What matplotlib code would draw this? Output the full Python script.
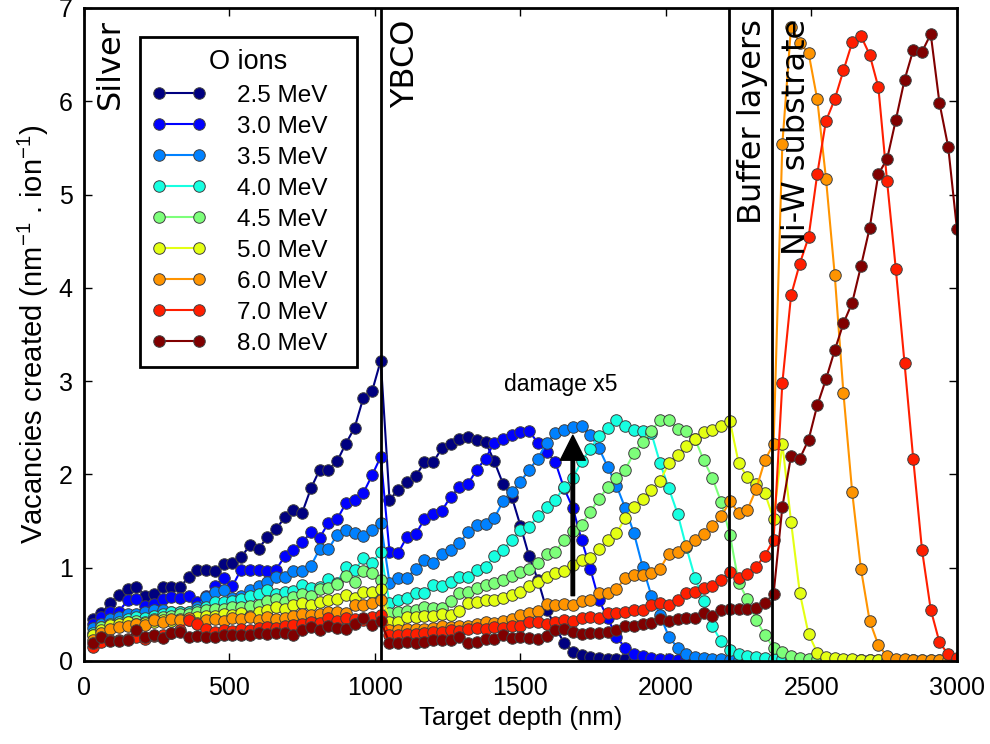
import numpy as np
import matplotlib
matplotlib.use('Agg')
import matplotlib.pyplot as plt

plt.rcParams['font.family'] = ['Liberation Sans', 'DejaVu Sans']
plt.rcParams['mathtext.default'] = 'regular'

# SRIM depth bins: 30 nm steps over 3 um
depth = np.arange(30, 3001, 30)

energies = ['2.5', '3.0', '3.5', '4.0', '4.5', '5.0', '6.0', '7.0', '8.0']

vac_2p5 = [0.45, 0.51, 0.62, 0.71, 0.77, 0.79, 0.70, 0.72, 0.79, 0.79,
           0.79, 0.90, 0.97, 0.98, 0.96, 1.04, 1.05, 1.11, 1.24, 1.20,
           1.33, 1.41, 1.54, 1.62, 1.59, 1.85, 2.05, 2.05, 2.14, 2.33,
           2.50, 2.82, 2.89, 3.22, 1.73, 1.83, 1.92, 1.98, 2.13, 2.13,
           2.28, 2.33, 2.38, 2.40, 2.37, 2.35, 2.14, 1.90, 1.76, 1.45,
           1.12, 0.87, 0.55, 0.37, 0.19, 0.10, 0.06, 0.04, 0.03, 0.02,
           0.02, 0.02, 0.01, 0.01, 0.01, 0.01, 0.01, 0.01, 0.01, 0.01,
           0.01, 0.01, 0.01, 0.01, 0.01, 0.01, 0.01, 0.01, 0.01, 0.01,
           0.00, 0.00, 0.00, 0.00, 0.00, 0.00, 0.00, 0.00, 0.00, 0.00,
           0.00, 0.00, 0.00, 0.00, 0.00, 0.00, 0.00, 0.00, 0.00, 0.00]

vac_3p0 = [0.40, 0.47, 0.53, 0.53, 0.65, 0.66, 0.59, 0.61, 0.66, 0.69,
           0.67, 0.70, 0.63, 0.70, 0.80, 0.89, 0.80, 0.98, 0.98, 0.98,
           0.96, 0.98, 1.12, 1.19, 1.27, 1.38, 1.32, 1.48, 1.52, 1.69,
           1.73, 1.80, 1.99, 2.19, 1.17, 1.16, 1.33, 1.36, 1.52, 1.58,
           1.61, 1.76, 1.86, 1.90, 2.05, 2.17, 2.34, 2.38, 2.42, 2.45,
           2.46, 2.34, 2.24, 2.13, 1.85, 1.64, 1.30, 0.99, 0.65, 0.46,
           0.26, 0.14, 0.08, 0.05, 0.03, 0.02, 0.02, 0.01, 0.01, 0.01,
           0.01, 0.01, 0.01, 0.01, 0.01, 0.01, 0.01, 0.01, 0.01, 0.01,
           0.00, 0.00, 0.00, 0.00, 0.00, 0.00, 0.00, 0.00, 0.00, 0.00,
           0.00, 0.00, 0.00, 0.00, 0.00, 0.00, 0.00, 0.00, 0.00, 0.00]

vac_3p5 = [0.35, 0.40, 0.45, 0.47, 0.50, 0.50, 0.52, 0.55, 0.55, 0.52,
           0.53, 0.52, 0.58, 0.69, 0.74, 0.76, 0.67, 0.70, 0.76, 0.80,
           0.85, 0.90, 0.90, 0.96, 0.96, 1.02, 1.20, 1.20, 1.35, 1.40,
           1.37, 1.34, 1.40, 1.48, 0.84, 0.89, 0.89, 0.99, 1.08, 1.05,
           1.15, 1.19, 1.26, 1.38, 1.46, 1.47, 1.53, 1.71, 1.81, 1.92,
           2.05, 2.17, 2.34, 2.44, 2.48, 2.51, 2.52, 2.42, 2.28, 2.08,
           1.88, 1.64, 1.37, 1.01, 0.70, 0.49, 0.26, 0.14, 0.07, 0.04,
           0.03, 0.02, 0.02, 0.01, 0.01, 0.01, 0.01, 0.01, 0.01, 0.01,
           0.01, 0.01, 0.01, 0.00, 0.00, 0.00, 0.00, 0.00, 0.00, 0.00,
           0.00, 0.00, 0.00, 0.00, 0.00, 0.00, 0.00, 0.00, 0.00, 0.00]

vac_4p0 = [0.30, 0.36, 0.40, 0.42, 0.45, 0.47, 0.46, 0.48, 0.50, 0.52,
           0.53, 0.52, 0.55, 0.58, 0.63, 0.63, 0.64, 0.66, 0.70, 0.72,
           0.76, 0.72, 0.74, 0.75, 0.81, 0.78, 0.79, 0.88, 0.84, 1.01,
           0.97, 1.10, 1.05, 1.17, 0.62, 0.65, 0.68, 0.73, 0.73, 0.81,
           0.80, 0.85, 0.90, 0.90, 0.97, 1.01, 1.12, 1.19, 1.30, 1.40,
           1.44, 1.55, 1.65, 1.73, 1.86, 1.96, 2.14, 2.27, 2.41, 2.50,
           2.58, 2.52, 2.48, 2.47, 2.44, 2.12, 1.85, 1.58, 1.22, 0.89,
           0.64, 0.37, 0.21, 0.12, 0.07, 0.05, 0.04, 0.03, 0.02, 0.02,
           0.02, 0.01, 0.01, 0.01, 0.01, 0.01, 0.01, 0.01, 0.01, 0.01,
           0.00, 0.00, 0.00, 0.00, 0.00, 0.00, 0.00, 0.00, 0.00, 0.00]

vac_4p5 = [0.28, 0.36, 0.38, 0.40, 0.42, 0.43, 0.42, 0.45, 0.47, 0.48,
           0.50, 0.50, 0.52, 0.55, 0.56, 0.56, 0.58, 0.58, 0.59, 0.60,
           0.64, 0.66, 0.63, 0.69, 0.72, 0.70, 0.77, 0.78, 0.82, 0.91,
           0.85, 0.96, 0.94, 0.87, 0.51, 0.53, 0.54, 0.55, 0.58, 0.57,
           0.57, 0.64, 0.73, 0.74, 0.78, 0.81, 0.84, 0.87, 0.91, 0.95,
           0.99, 1.05, 1.15, 1.17, 1.30, 1.39, 1.46, 1.60, 1.74, 1.86,
           1.96, 2.05, 2.23, 2.35, 2.47, 2.58, 2.58, 2.49, 2.47, 2.38,
           2.15, 1.96, 1.70, 1.35, 0.84, 0.66, 0.44, 0.28, 0.14, 0.10,
           0.05, 0.03, 0.02, 0.02, 0.01, 0.01, 0.01, 0.01, 0.01, 0.01,
           0.01, 0.01, 0.01, 0.01, 0.01, 0.00, 0.00, 0.00, 0.00, 0.00]

vac_5p0 = [0.28, 0.33, 0.39, 0.40, 0.42, 0.40, 0.41, 0.42, 0.44, 0.43,
           0.45, 0.44, 0.47, 0.48, 0.48, 0.50, 0.49, 0.51, 0.48, 0.53,
           0.55, 0.58, 0.56, 0.60, 0.62, 0.60, 0.63, 0.65, 0.66, 0.71,
           0.68, 0.74, 0.74, 0.77, 0.42, 0.42, 0.47, 0.47, 0.48, 0.48,
           0.50, 0.49, 0.54, 0.62, 0.63, 0.65, 0.65, 0.67, 0.71, 0.74,
           0.80, 0.85, 0.90, 0.94, 0.96, 1.03, 1.08, 1.10, 1.20, 1.30,
           1.37, 1.53, 1.65, 1.74, 1.83, 1.93, 2.12, 2.21, 2.30, 2.38,
           2.45, 2.48, 2.52, 2.57, 2.12, 1.97, 1.90, 1.80, 1.52, 2.33,
           1.49, 0.73, 0.29, 0.09, 0.04, 0.03, 0.02, 0.02, 0.01, 0.01,
           0.01, 0.01, 0.01, 0.01, 0.01, 0.01, 0.01, 0.01, 0.01, 0.01]

vac_6p0 = [0.22, 0.30, 0.34, 0.36, 0.38, 0.40, 0.39, 0.44, 0.42, 0.45,
           0.44, 0.46, 0.41, 0.44, 0.45, 0.43, 0.46, 0.45, 0.47, 0.44,
           0.47, 0.45, 0.46, 0.48, 0.50, 0.49, 0.50, 0.52, 0.53, 0.51,
           0.60, 0.60, 0.62, 0.65, 0.33, 0.33, 0.34, 0.34, 0.34, 0.35,
           0.37, 0.36, 0.38, 0.37, 0.40, 0.42, 0.41, 0.43, 0.45, 0.49,
           0.51, 0.54, 0.61, 0.60, 0.61, 0.60, 0.64, 0.65, 0.73, 0.73,
           0.77, 0.89, 0.92, 0.92, 0.94, 0.99, 1.15, 1.17, 1.23, 1.30,
           1.36, 1.45, 1.55, 1.71, 1.59, 1.62, 1.84, 2.15, 2.33, 5.54,
           6.80, 6.62, 6.52, 6.02, 5.17, 4.14, 2.87, 1.81, 0.99, 0.43,
           0.17, 0.05, 0.02, 0.02, 0.01, 0.01, 0.01, 0.01, 0.01, 0.01]

vac_7p0 = [0.15, 0.20, 0.22, 0.22, 0.24, 0.26, 0.24, 0.27, 0.28, 0.30,
           0.33, 0.44, 0.40, 0.34, 0.31, 0.33, 0.32, 0.34, 0.33, 0.35,
           0.36, 0.35, 0.38, 0.39, 0.40, 0.42, 0.41, 0.46, 0.43, 0.46,
           0.45, 0.44, 0.47, 0.49, 0.28, 0.28, 0.29, 0.29, 0.30, 0.31,
           0.31, 0.33, 0.32, 0.34, 0.35, 0.34, 0.36, 0.35, 0.37, 0.37,
           0.42, 0.42, 0.40, 0.42, 0.44, 0.43, 0.46, 0.47, 0.46, 0.51,
           0.51, 0.53, 0.55, 0.55, 0.60, 0.62, 0.60, 0.65, 0.73, 0.74,
           0.78, 0.80, 0.87, 0.95, 0.89, 0.93, 1.01, 1.13, 1.30, 2.98,
           3.92, 4.26, 4.54, 5.22, 5.79, 6.02, 6.33, 6.63, 6.70, 6.50,
           6.15, 5.14, 4.20, 3.19, 2.16, 1.19, 0.55, 0.20, 0.07, 0.03]

vac_8p0 = [0.19, 0.26, 0.21, 0.21, 0.23, 0.33, 0.26, 0.28, 0.25, 0.30,
           0.31, 0.26, 0.27, 0.26, 0.26, 0.28, 0.28, 0.28, 0.28, 0.30,
           0.29, 0.30, 0.30, 0.28, 0.33, 0.36, 0.33, 0.37, 0.35, 0.34,
           0.40, 0.46, 0.39, 0.43, 0.19, 0.19, 0.20, 0.19, 0.20, 0.23,
           0.22, 0.23, 0.26, 0.19, 0.20, 0.24, 0.24, 0.28, 0.25, 0.26,
           0.25, 0.24, 0.27, 0.33, 0.34, 0.31, 0.29, 0.30, 0.30, 0.31,
           0.33, 0.37, 0.37, 0.40, 0.41, 0.45, 0.43, 0.45, 0.46, 0.46,
           0.51, 0.48, 0.55, 0.56, 0.56, 0.56, 0.57, 0.62, 0.72, 1.65,
           2.20, 2.17, 2.37, 2.74, 3.02, 3.33, 3.62, 3.84, 4.23, 4.64,
           5.22, 5.38, 5.80, 6.23, 6.55, 6.53, 6.72, 5.98, 5.51, 4.63]

series = [vac_2p5, vac_3p0, vac_3p5, vac_4p0, vac_4p5,
          vac_5p0, vac_6p0, vac_7p0, vac_8p0]

# layer interfaces (nm)
interfaces = [1020, 2215, 2365]
layer_names = ['Silver', 'YBCO', 'Buffer layers', 'Ni-W substrate']
layer_text_x = [92, 1105, 2298, 2450]

colors = plt.cm.jet(np.linspace(0, 1, len(energies)))

fig = plt.figure(figsize=(9.9, 7.44), dpi=100)
ax = fig.add_axes([0.0848, 0.1116, 0.8818, 0.8777])

for e, vals, c in zip(energies, series, colors):
    ax.plot(depth, vals, '-o', color=c, lw=1.5, ms=8.3,
            mec='0.25', mew=0.7, label=e + ' MeV')

for xv in interfaces:
    ax.axvline(xv, color='k', lw=2, zorder=5)

for name, xt in zip(layer_names, layer_text_x):
    ax.text(xt, 6.88, name, rotation=90, ha='center', va='top',
            fontsize=23, family='DejaVu Sans', zorder=6)

ax.annotate('', xy=(1680, 2.42), xytext=(1680, 0.70),
            arrowprops=dict(facecolor='k', edgecolor='k', width=2.5,
                            headwidth=18, headlength=18, shrink=0))
ax.text(1640, 2.96, 'damage x5', ha='center', va='center', fontsize=16.5)

ax.set_xlim(0, 3000)
ax.set_ylim(0, 7)
ax.set_xticks(np.arange(0, 3001, 500))
ax.set_yticks(np.arange(0, 8, 1))
ax.tick_params(direction='in', top=True, right=True, length=6,
               width=1, labelsize=18, pad=8)
ax.tick_params(axis='x', pad=11)
for sp in ax.spines.values():
    sp.set_linewidth(2)

ax.set_xlabel('Target depth (nm)', fontsize=18.5)
ax.set_ylabel('Vacancies created (nm$^{-1}$ . ion$^{-1}$)', fontsize=21,
              labelpad=6)

leg = ax.legend(loc='upper left', bbox_to_anchor=(0.0641, 0.955, 0.2486, 0),
                mode='expand', borderaxespad=0, title='O ions',
                fontsize=17.5, title_fontsize=19.5, numpoints=2,
                handlelength=2.25, handletextpad=1.25, labelspacing=0.37,
                borderpad=0.5, fancybox=False, framealpha=1)
leg.get_frame().set_edgecolor('k')
leg.get_frame().set_linewidth(2)

fig.savefig('out.png', dpi=100)
